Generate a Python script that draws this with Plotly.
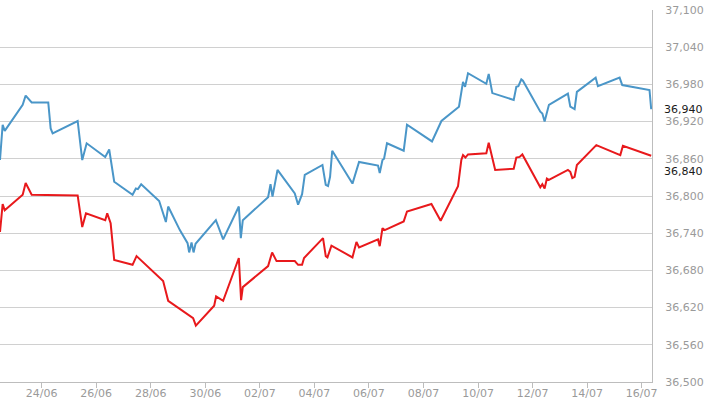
import plotly.graph_objects as go

# ---- data ----
blue_time = [
    "2019-06-22 11:20", "2019-06-22 13:40", "2019-06-22 15:30", "2019-06-23 07:18", "2019-06-23 09:55",
    "2019-06-23 15:12", "2019-06-24 05:48", "2019-06-24 07:55", "2019-06-24 09:40", "2019-06-25 07:40",
    "2019-06-25 11:42", "2019-06-25 15:36", "2019-06-26 07:56", "2019-06-26 11:26", "2019-06-26 15:50",
    "2019-06-27 08:00", "2019-06-27 10:55", "2019-06-27 12:40", "2019-06-27 15:35", "2019-06-28 07:25",
    "2019-06-28 13:18", "2019-06-28 15:20", "2019-06-29 01:36", "2019-06-29 08:24", "2019-06-29 09:48",
    "2019-06-29 11:54", "2019-06-29 13:40", "2019-06-29 15:25", "2019-06-30 09:18", "2019-06-30 15:42",
    "2019-07-01 05:30", "2019-07-01 07:16", "2019-07-01 09:00", "2019-07-02 07:16", "2019-07-02 09:24",
    "2019-07-02 11:08", "2019-07-02 15:32", "2019-07-03 06:45", "2019-07-03 09:40", "2019-07-03 13:10",
    "2019-07-03 15:32", "2019-07-04 07:06", "2019-07-04 10:00", "2019-07-04 12:00", "2019-07-04 13:48",
    "2019-07-04 15:42", "2019-07-05 09:30", "2019-07-05 15:18", "2019-07-06 08:00", "2019-07-06 09:30",
    "2019-07-06 11:54", "2019-07-06 13:18", "2019-07-06 15:55", "2019-07-07 06:36", "2019-07-07 09:30",
    "2019-07-08 07:30", "2019-07-08 15:48", "2019-07-09 07:14", "2019-07-09 10:48", "2019-07-09 12:36",
    "2019-07-09 15:12", "2019-07-10 07:18", "2019-07-10 09:24", "2019-07-10 12:36", "2019-07-11 07:24",
    "2019-07-11 09:42", "2019-07-11 11:30", "2019-07-11 14:06", "2019-07-11 15:30", "2019-07-12 06:48",
    "2019-07-12 08:36", "2019-07-12 10:36", "2019-07-12 14:24", "2019-07-13 07:06", "2019-07-13 09:12",
    "2019-07-13 13:00", "2019-07-13 15:00", "2019-07-14 07:30", "2019-07-14 09:30", "2019-07-15 04:36",
    "2019-07-15 06:54", "2019-07-16 06:54", "2019-07-16 08:24",
]
blue_value = [
    36858, 36915, 36905, 36947, 36962,
    36951, 36951, 36909, 36901, 36921,
    36858, 36885, 36863, 36875, 36823,
    36802, 36812, 36811, 36819, 36792,
    36758, 36783, 36745, 36724, 36709,
    36725, 36709, 36723, 36761, 36730,
    36783, 36732, 36761, 36798, 36819,
    36799, 36842, 36804, 36786, 36803,
    36834, 36850, 36818, 36816, 36831,
    36873, 36820, 36855, 36849, 36837,
    36858, 36860, 36885, 36873, 36915,
    36888, 36921, 36944, 36984, 36976,
    36998, 36981, 36997, 36966, 36955,
    36976, 36977, 36988, 36986, 36936,
    36933, 36920, 36947, 36965, 36944,
    36940, 36968, 36991, 36977, 36991,
    36979, 36971, 36940,
]

red_time = [
    "2019-06-22 11:20", "2019-06-22 13:40", "2019-06-22 15:30", "2019-06-23 07:18", "2019-06-23 09:55",
    "2019-06-23 15:12", "2019-06-25 07:40", "2019-06-25 11:42", "2019-06-25 15:00", "2019-06-26 07:56",
    "2019-06-26 09:42", "2019-06-26 12:42", "2019-06-26 15:50", "2019-06-27 08:00", "2019-06-27 11:30",
    "2019-06-28 10:54", "2019-06-28 15:20", "2019-06-29 11:54", "2019-06-29 13:18", "2019-06-29 15:42",
    "2019-06-30 07:48", "2019-06-30 09:30", "2019-06-30 15:42", "2019-07-01 05:30", "2019-07-01 07:30",
    "2019-07-01 09:00", "2019-07-02 07:16", "2019-07-02 10:48", "2019-07-02 14:42", "2019-07-03 06:45",
    "2019-07-03 09:40", "2019-07-03 13:10", "2019-07-03 14:54", "2019-07-04 07:36", "2019-07-04 10:00",
    "2019-07-04 11:30", "2019-07-04 15:00", "2019-07-05 09:30", "2019-07-05 13:00", "2019-07-05 15:18",
    "2019-07-06 08:00", "2019-07-06 09:30", "2019-07-06 11:54", "2019-07-06 13:54", "2019-07-07 06:36",
    "2019-07-07 09:30", "2019-07-08 07:00", "2019-07-08 15:06", "2019-07-09 06:24", "2019-07-09 09:18",
    "2019-07-09 10:48", "2019-07-09 12:54", "2019-07-09 15:12", "2019-07-10 07:18", "2019-07-10 09:24",
    "2019-07-10 15:06", "2019-07-11 07:24", "2019-07-11 09:42", "2019-07-11 12:36", "2019-07-11 15:00",
    "2019-07-12 06:48", "2019-07-12 08:36", "2019-07-12 10:36", "2019-07-12 12:36", "2019-07-12 14:24",
    "2019-07-13 07:06", "2019-07-13 09:12", "2019-07-13 11:00", "2019-07-13 13:00", "2019-07-13 15:00",
    "2019-07-14 08:06", "2019-07-15 05:12", "2019-07-15 07:30", "2019-07-16 08:24",
]
red_value = [
    36742, 36787, 36777, 36802, 36821,
    36802, 36801, 36750, 36772, 36761,
    36772, 36756, 36697, 36689, 36703,
    36663, 36631, 36605, 36603, 36591,
    36623, 36638, 36631, 36700, 36632,
    36653, 36687, 36709, 36695, 36695,
    36689, 36689, 36700, 36732, 36703,
    36701, 36720, 36701, 36726, 36717,
    36730, 36719, 36748, 36745, 36759,
    36775, 36787, 36760, 36816, 36858,
    36866, 36862, 36867, 36869, 36886,
    36842, 36844, 36862, 36863, 36867,
    36814, 36819, 36812, 36828, 36826,
    36842, 36839, 36829, 36831, 36850,
    36882, 36866, 36881, 36865,
]

last_labels = [36940, 36840]
x_range = ["2019-06-22 11:20", "2019-07-16 09:06"]
y_range = [36500, 37100]

BLUE = "#4A96C8"
RED = "#E8191C"
GRID = "#D0D0D0"
TICK = "#9A9A9A"
FONT = "DejaVu Sans"

fig = go.Figure()
fig.add_trace(go.Scatter(x=blue_time, y=blue_value, mode="lines",
                         line=dict(color=BLUE, width=2), showlegend=False))
fig.add_trace(go.Scatter(x=red_time, y=red_value, mode="lines",
                         line=dict(color=RED, width=2), showlegend=False))

for v in last_labels:
    fig.add_annotation(x=1, xref="paper", y=v, yref="y", xanchor="left", yanchor="middle",
                       text=f"{v:,}", showarrow=False, xshift=10,
                       font=dict(family=FONT, size=11, color="#1a1a1a"))

fig.update_layout(
    width=710, height=399,
    margin=dict(l=0, r=58, t=10, b=17),
    paper_bgcolor="white", plot_bgcolor="white",
    font=dict(family=FONT, size=11, color=TICK),
    xaxis=dict(type="date", range=x_range, tick0="2019-06-24", dtick=2 * 86400000,
               tickformat="%d/%m", showgrid=False, showline=True, linecolor="#BDBDBD",
               linewidth=1, ticks="outside", ticklen=5, tickcolor="#BDBDBD",
               ticklabelstandoff=-4, automargin=False,
               tickfont=dict(family=FONT, size=11, color=TICK), zeroline=False),
    yaxis=dict(range=y_range, dtick=60, tick0=36500, side="right", tickformat=",d",
               showgrid=True, gridcolor=GRID, gridwidth=1, showline=True,
               linecolor="#BDBDBD", linewidth=1, ticks="", zeroline=False,
               ticklabelstandoff=10, automargin=False,
               tickfont=dict(family=FONT, size=11, color=TICK)),
)

fig.write_html("out.html", config={"displayModeBar": False},
               post_script="document.body.style.margin='0';")
